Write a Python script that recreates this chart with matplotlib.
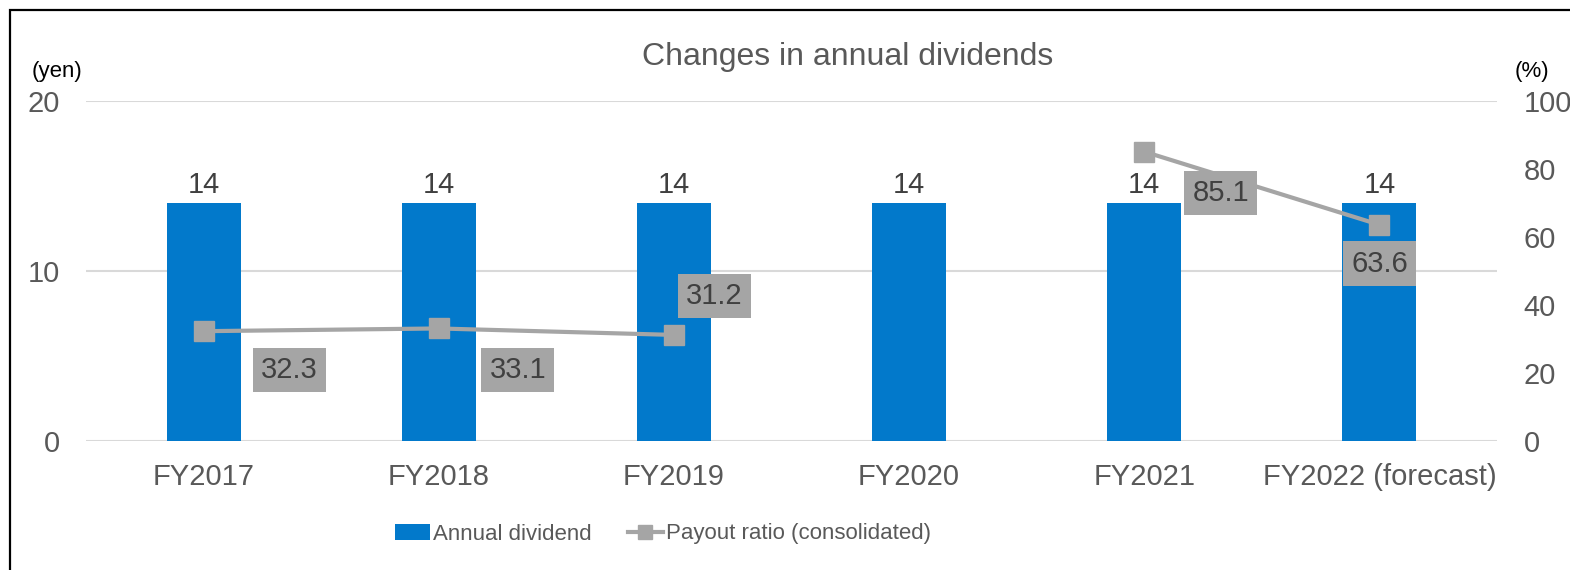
import matplotlib
matplotlib.use("Agg")
import matplotlib.pyplot as plt
import numpy as np
from matplotlib.patches import Rectangle

plt.rcParams['font.family'] = ['Liberation Sans', 'DejaVu Sans']

categories = ["FY2017", "FY2018", "FY2019", "FY2020", "FY2021", "FY2022 (forecast)"]
dividend = [14, 14, 14, 14, 14, 14]
payout = [32.3, 33.1, 31.2, np.nan, 85.1, 63.6]
# label offsets (points) for the payout labels
payout_label_offsets = [(62, -28), (57, -30), (29, 28), None, (55, -30), (0, -28)]

BLUE = '#0279CB'
GRAY = '#A5A5A5'
TICK = '#595959'
DARK = '#404040'

W, H = 1570, 570
fig = plt.figure(figsize=(W / 100, H / 100), dpi=100)
ax = fig.add_axes([86 / W, 1 - 441 / H, (1497 - 86) / W, (441 - 101) / H])
ax2 = ax.twinx()

x = np.arange(len(categories))
bars = ax.bar(x, dividend, width=0.315, color=BLUE, zorder=2, label='Annual dividend')
ax.set_xlim(-0.5, len(categories) - 0.5)
ax.set_ylim(0, 20)
ax.set_yticks([0, 10, 20])
ax.yaxis.grid(True, color='#D9D9D9', linewidth=1.5, zorder=0)
ax.set_axisbelow(True)
ax.set_xticks(x)
ax.set_xticklabels(categories)
ax.tick_params(axis='both', length=0, labelsize=21, labelcolor=TICK)
ax.tick_params(axis='y', pad=19)
ax.tick_params(axis='x', pad=16)
for s in ax.spines.values():
    s.set_visible(False)

for xi, v in zip(x, dividend):
    ax.annotate(f"{v}", (xi, v), xytext=(0, 3), textcoords='offset points',
                ha='center', va='bottom', fontsize=21, color=DARK)

ax2.plot(x, payout, color=GRAY, linewidth=3, marker='s', markersize=14,
         label='Payout ratio (consolidated)', zorder=3)
ax2.set_ylim(0, 100)
ax2.set_yticks([0, 20, 40, 60, 80, 100])
ax2.tick_params(axis='y', length=0, labelsize=21, labelcolor=TICK, pad=19)
for s in ax2.spines.values():
    s.set_visible(False)

for xi, v, off in zip(x, payout, payout_label_offsets):
    if off is None or np.isnan(v):
        continue
    ax2.annotate(f"{v:.1f}", (xi, v), xytext=off, textcoords='offset points',
                 ha='center', va='center', fontsize=21, color=DARK,
                 bbox=dict(boxstyle='square,pad=0.28', fc=GRAY, ec='none'), zorder=5)

fig.text(848 / W, 1 - 57 / H, "Changes in annual dividends", ha='center', va='center',
         fontsize=23, color=TICK)
fig.text(57 / W, 1 - 72 / H, "(yen)", ha='center', va='center', fontsize=16, color='#000000')
fig.text(1532 / W, 1 - 72 / H, "(%)", ha='center', va='center', fontsize=16, color='#000000')

h1, l1 = ax.get_legend_handles_labels()
h2, l2 = ax2.get_legend_handles_labels()
leg = fig.legend(h1 + h2, l1 + l2, loc='center', bbox_to_anchor=(663 / W, 1 - 534 / H),
                 ncol=2, frameon=False, fontsize=16, markerscale=0.75,
                 handlelength=1.6, handleheight=0.75, handletextpad=0.15, columnspacing=1.6,
                 labelcolor=TICK)

fig.patches.append(Rectangle((10 / W, -0.1), 1.2, 1.1 - 10 / H,
                             transform=fig.transFigure, fill=False,
                             edgecolor='black', linewidth=1.6))

fig.savefig("out.png", dpi=100)
